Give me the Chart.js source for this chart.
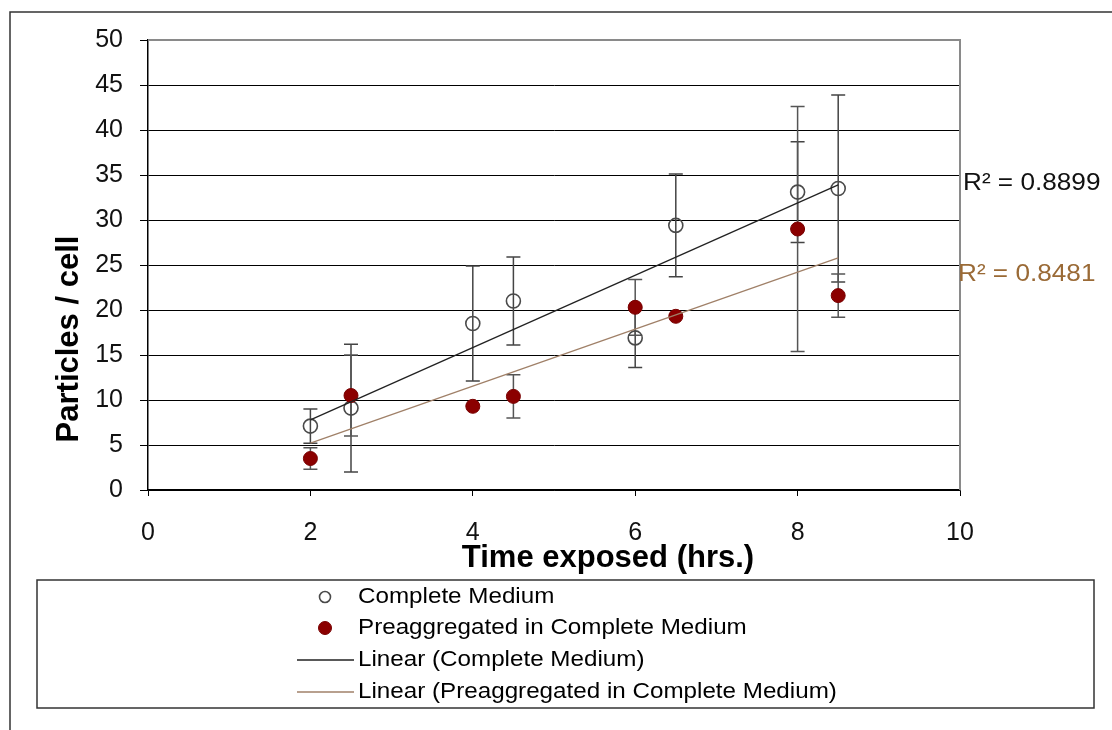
<!DOCTYPE html>
<html>
<head>
<meta charset="utf-8">
<title>Particles per cell vs time exposed</title>
<script src="https://cdn.jsdelivr.net/npm/chart.js@4.4.1/dist/chart.umd.min.js"></script>
<style>
  html, body { margin: 0; padding: 0; background: #fff; }
  #wrap { width: 1112px; height: 730px; position: relative; }
</style>
</head>
<body>
<div id="wrap"><canvas id="chart"></canvas></div>
<script>
// Values
const hours = [2, 2.5, 4, 4.5, 6, 6.5, 8, 8.5];
const completeMedium = [7.1, 9.1, 18.5, 21.0, 16.9, 29.4, 33.1, 33.5];
const completeErr = [1.9, 7.1, 6.4, 4.9, 3.3, 5.7, 5.6, 10.4];
const preaggregated = [3.5, 10.5, 9.3, 10.4, 20.3, 19.3, 29.0, 21.6];
const preaggregatedErr = [1.2, 4.5, 0, 2.4, 3.1, 0, 13.6, 2.4];

// trend line end points (x = first / last hour)
const trendHours = [2, 8.5];
const completeTrend = [7.8, 33.9];
const preaggregatedTrend = [5.2, 25.8];
const rSquared = ["R\u00B2 = 0.8899", "R\u00B2 = 0.8481"];

const yTicks = [0, 5, 10, 15, 20, 25, 30, 35, 40, 45, 50];
const xTicks = [0, 2, 4, 6, 8, 10];

const FONT = '"Liberation Sans", Arial, sans-serif';
const toPoints = (xs, ys) => xs.map((x, i) => ({ x: x, y: ys[i] }));

// text in the reference is slightly wide, stretch it a little
function wideText(ctx, text, x, y, sx) {
    ctx.save();
    ctx.translate(x, y);
    ctx.scale(sx, 1);
    ctx.fillText(text, 0, 0);
    ctx.restore();
}

// error bars + plot border, drawn under the markers
const errorBarPlugin = {
    id: 'errorBars',
    beforeDatasetsDraw(chart) {
        const ctx = chart.ctx;
        const xs = chart.scales.x, ys = chart.scales.y;
        const area = chart.chartArea;

        // grey plot area border (top + right)
        ctx.save();
        ctx.strokeStyle = '#8a8a8a';
        ctx.lineWidth = 2;
        ctx.beginPath();
        ctx.moveTo(area.left, area.top);
        ctx.lineTo(area.right, area.top);
        ctx.lineTo(area.right, area.bottom);
        ctx.stroke();
        ctx.restore();

        chart.data.datasets.forEach(ds => {
            if (!ds.errorBars) return;
            ctx.save();
            ctx.strokeStyle = ds.errorColor;
            ctx.lineWidth = 1.5;
            ds.data.forEach((p, i) => {
                const err = ds.errorBars[i];
                if (!err) return;
                const px = xs.getPixelForValue(p.x);
                const top = ys.getPixelForValue(p.y + err);
                const bot = ys.getPixelForValue(p.y - err);
                ctx.beginPath();
                ctx.moveTo(px, top); ctx.lineTo(px, bot);
                ctx.moveTo(px - 7, top); ctx.lineTo(px + 7, top);
                ctx.moveTo(px - 7, bot); ctx.lineTo(px + 7, bot);
                ctx.stroke();
            });
            ctx.restore();
        });
    }
};

// frame, axis titles, R² labels and boxed legend
const decorPlugin = {
    id: 'decor',
    afterDraw(chart) {
        const ctx = chart.ctx;
        const xs = chart.scales.x, ys = chart.scales.y;
        ctx.save();

        // outer frame
        ctx.strokeStyle = '#333';
        ctx.lineWidth = 1.5;
        ctx.beginPath();
        ctx.moveTo(10, 730);
        ctx.lineTo(10, 12);
        ctx.lineTo(1112, 12);
        ctx.stroke();

        // axis titles
        ctx.fillStyle = '#000';
        ctx.font = 'bold 31px ' + FONT;
        ctx.textAlign = 'center';
        ctx.textBaseline = 'middle';
        ctx.fillText('Time exposed (hrs.)', 608, 558);
        ctx.save();
        ctx.translate(69, 339);
        ctx.rotate(-Math.PI / 2);
        ctx.fillText('Particles / cell', 0, 0);
        ctx.restore();

        // R² labels
        ctx.font = '24px ' + FONT;
        ctx.textAlign = 'left';
        ctx.fillStyle = '#111';
        wideText(ctx, rSquared[0], xs.right + 3, ys.getPixelForValue(34.1), 1.09);
        ctx.fillStyle = '#9a6a36';
        wideText(ctx, rSquared[1], xs.right - 2, ys.getPixelForValue(24.0), 1.09);

        // legend box
        ctx.strokeStyle = '#333';
        ctx.lineWidth = 1.5;
        ctx.strokeRect(37, 580, 1057, 128);
        ctx.font = '22px ' + FONT;
        const rowY = [597, 628, 660, 692];
        chart.data.datasets.forEach((ds, i) => {
            const y = rowY[i];
            if (ds.showLine) {
                ctx.strokeStyle = ds.borderColor;
                ctx.lineWidth = ds.borderWidth;
                ctx.beginPath();
                ctx.moveTo(297, y); ctx.lineTo(354, y);
                ctx.stroke();
            } else {
                ctx.beginPath();
                ctx.arc(325, y, i === 0 ? 5.5 : 6.5, 0, Math.PI * 2);
                if (ds.pointBackgroundColor !== 'transparent') {
                    ctx.fillStyle = ds.pointBackgroundColor;
                    ctx.fill();
                }
                ctx.strokeStyle = ds.pointBorderColor;
                ctx.lineWidth = ds.pointBorderWidth;
                ctx.stroke();
            }
            ctx.fillStyle = '#000';
            wideText(ctx, ds.label, 358, y, 1.1);
        });
        ctx.restore();
    }
};

new Chart(document.getElementById('chart'), {
    type: 'scatter',
    data: {
        datasets: [
            {
                label: 'Complete Medium',
                data: toPoints(hours, completeMedium),
                errorBars: completeErr,
                errorColor: '#444',
                pointRadius: 7,
                pointBackgroundColor: 'transparent',
                pointBorderColor: '#4a4a4a',
                pointBorderWidth: 1.6,
                order: 2
            },
            {
                label: 'Preaggregated in Complete Medium',
                data: toPoints(hours, preaggregated),
                errorBars: preaggregatedErr,
                errorColor: '#555',
                pointRadius: 7,
                pointBackgroundColor: '#8b0000',
                pointBorderColor: '#780000',
                pointBorderWidth: 1,
                order: 1
            },
            {
                label: 'Linear (Complete Medium)',
                data: toPoints(trendHours, completeTrend),
                showLine: true,
                borderColor: '#222',
                borderWidth: 1.3,
                pointRadius: 0,
                order: 0
            },
            {
                label: 'Linear (Preaggregated in Complete Medium)',
                data: toPoints(trendHours, preaggregatedTrend),
                showLine: true,
                borderColor: '#a08068',
                borderWidth: 1.3,
                pointRadius: 0,
                order: 0
            }
        ]
    },
    options: {
        responsive: true,
        maintainAspectRatio: false,
        animation: false,
        layout: { padding: { top: 40, right: 152, bottom: 180, left: 0 } },
        plugins: {
            legend: { display: false },
            tooltip: { enabled: false }
        },
        scales: {
            x: {
                type: 'linear',
                min: 0, max: 10,
                afterBuildTicks: s => { s.ticks = xTicks.map(v => ({ value: v })); },
                afterFit: s => { s.height = 60; },
                ticks: { color: '#111', font: { size: 25, family: FONT }, padding: 22 },
                grid: { drawOnChartArea: false, color: '#000', tickLength: 6 },
                border: { color: '#000', width: 1.5 }
            },
            y: {
                min: 0, max: 50,
                afterBuildTicks: s => { s.ticks = yTicks.map(v => ({ value: v })); },
                afterFit: s => { s.width = 148; },
                ticks: { color: '#111', font: { size: 25, family: FONT }, padding: 17 },
                grid: { color: '#000', lineWidth: 1, tickLength: 8 },
                border: { color: '#000', width: 1.5 }
            }
        }
    },
    plugins: [errorBarPlugin, decorPlugin]
});
</script>
</body>
</html>
